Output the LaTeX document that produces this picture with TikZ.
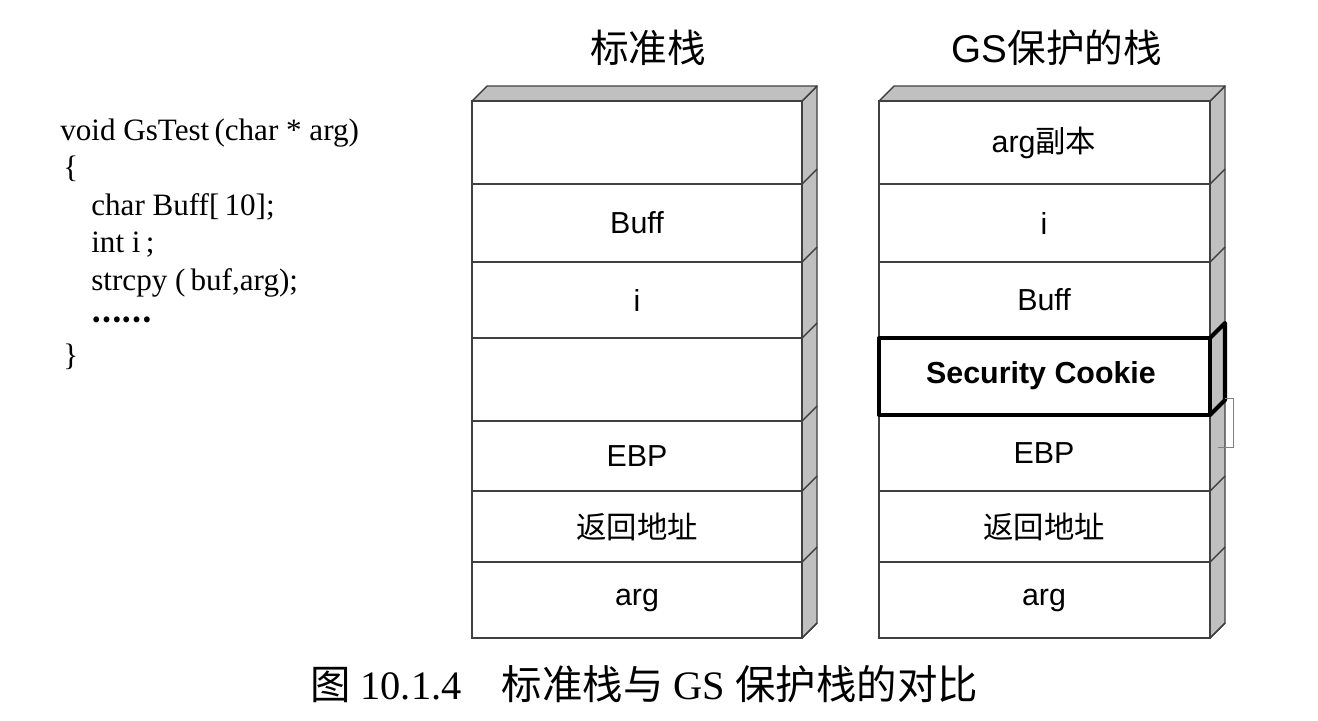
\documentclass[tikz,border=0pt]{standalone}
\usepackage{fontspec}
\setmainfont{Liberation Serif}
\setsansfont{Liberation Sans}
\newfontfamily\cjk{Noto Sans CJK SC}
\definecolor{sidegray}{HTML}{C0C0C0}
\definecolor{edgegray}{HTML}{404040}
\tikzset{
  cellline/.style={draw=edgegray, line width=0.8pt},
  sideface/.style={cellline, fill=sidegray, line join=round},
  celltext/.style={font=\sffamily\fontsize{17.3}{20}\selectfont, inner sep=0pt},
  codeline/.style={font=\fontsize{17.7}{21}\selectfont, anchor=base west, inner sep=0pt},
  stacktitle/.style={font=\cjk\fontsize{22}{26}\selectfont, inner sep=0pt},
  cookie/.style={draw=black, line width=2.3pt, line join=round}
}
\begin{document}
\begin{tikzpicture}[x=0.02cm, y=-0.02cm]
    \useasboundingbox (0,0) rectangle (1318,720);

    % Source code
    \node[codeline] (code1) at (60,140) {void GsTest\,(char * arg)};
    \node[codeline] (code2) at (63,177.5) {\{};
    \node[codeline] (code3) at (91,215) {char Buff[\,10];};
    \node[codeline] (code4) at (91,252.5) {int i\,;};
    \node[codeline] (code5) at (91,290) {strcpy (\,buf,arg);};
    \node[codeline, font=\cjk\bfseries\fontsize{15.5}{18}\selectfont] (code6) at (91,322) {……};
    \node[codeline] (code7) at (63,365) {\}};

    % Standard stack
    \draw[sideface] (802,101) -- (817,86) -- (817,623) -- (802,638) -- cycle;
    \draw[sideface] (472,101) -- (487,86) -- (817,86) -- (802,101) -- cycle;
    \foreach \top/\bot/\lbl [count=\n] in {101/184/{}, 184/262/Buff, 262/338/i,
        338/421/{}, 421/491/EBP, 491/562/{\cjk 返回地址}, 562/638/arg} {
        \draw[cellline, fill=white] (472,\top) rectangle (802,\bot);
        \draw[cellline] (802,\bot) -- (817,\bot-15);
        \node[celltext] (std\n) at (637,{(\top+\bot)/2}) {\lbl};
    }
    \node[stacktitle] (stdtitle) at (648,48) {标准栈};

    % GS protected stack
    \draw[sideface] (1210,101) -- (1225,86) -- (1225,623) -- (1210,638) -- cycle;
    \draw[sideface] (879,101) -- (894,86) -- (1225,86) -- (1210,101) -- cycle;
    \foreach \top/\bot/\lbl [count=\n] in {101/184/{arg{\cjk 副本}}, 184/262/i, 262/338/Buff,
        338/415/{}, 415/491/EBP, 491/562/{\cjk 返回地址}, 562/638/arg} {
        \draw[cellline, fill=white] (879,\top) rectangle (1210,\bot);
        \draw[cellline] (1210,\bot) -- (1225,\bot-15);
        \node[celltext] (gs\n) at (1044,{(\top+\bot)/2}) {\lbl};
    }
    \draw[cookie] (879,338) rectangle (1210,415);
    \draw[cookie] (1210,338) -- (1225,323) -- (1225,400) -- (1210,415);
    \node[celltext, font=\sffamily\bfseries\fontsize{17.3}{20}\selectfont] (gs4) at (1041,376) {Security Cookie};
    \draw[gray, line width=0.4pt] (1225,398) -- (1233,398) -- (1233,447) -- (1218,447);
    \node[stacktitle] (gstitle) at (1057,48) {{\sffamily GS}保护的栈};

    % Caption
    \node[font=\fontsize{23}{27}\selectfont, inner sep=0pt] (caption) at (644,684)
        {{\cjk 图} 10.1.4\quad{\cjk 标准栈与} GS {\cjk 保护栈的对比}};
\end{tikzpicture}
\end{document}
